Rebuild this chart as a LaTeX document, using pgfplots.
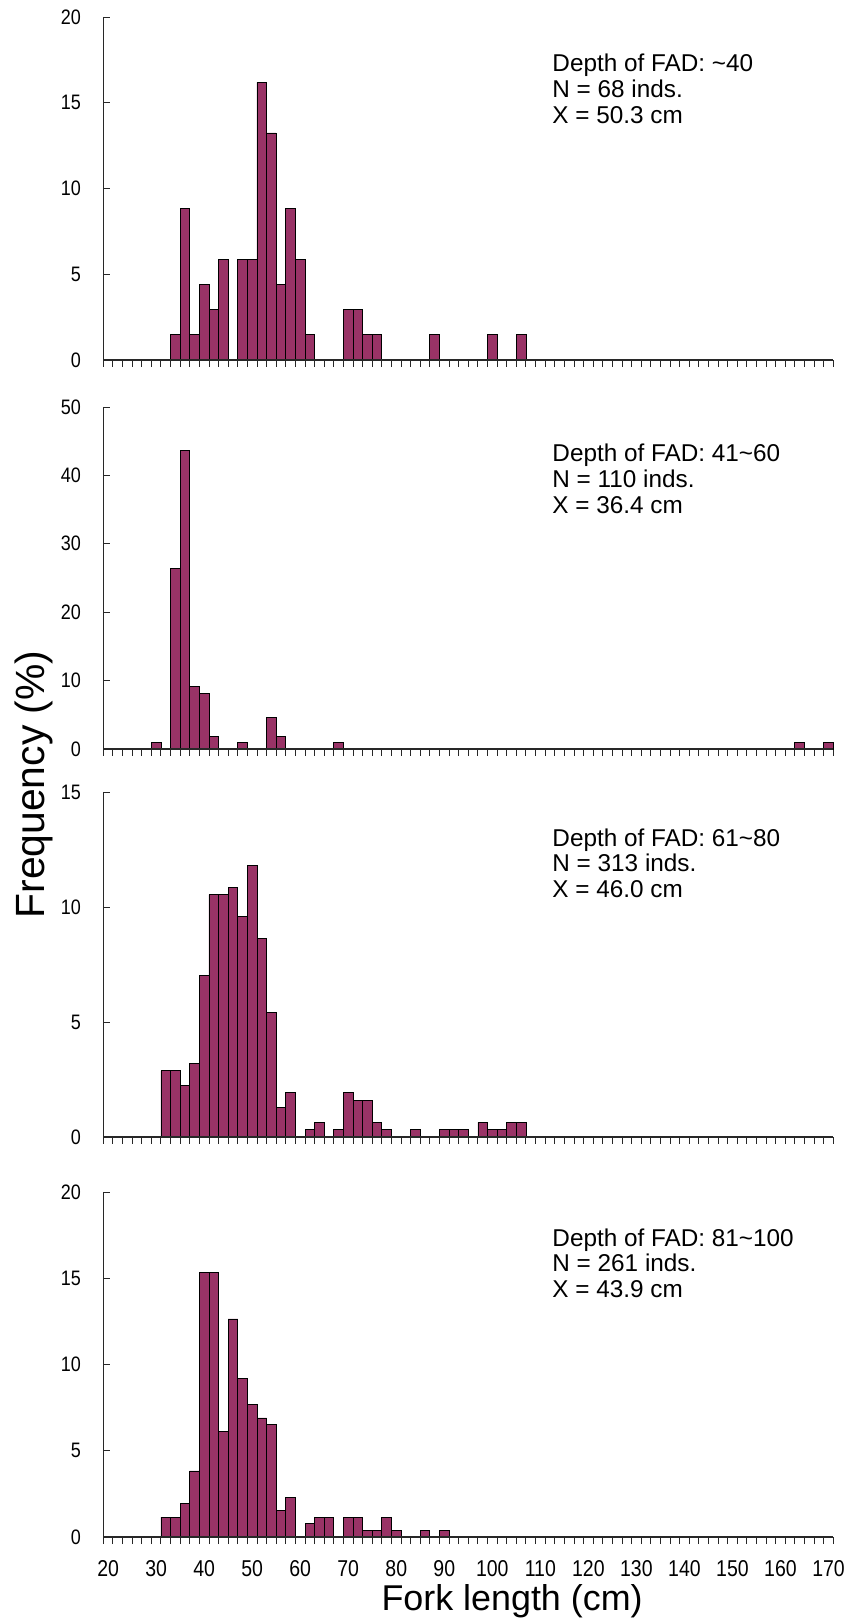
\documentclass[border=0pt]{standalone}
\usepackage{fontspec}
\setmainfont{Liberation Sans}
\newfontfamily\xtickfont[FakeStretch=0.85]{Liberation Sans}
\newfontfamily\ytickfont[FakeStretch=0.86]{Liberation Sans}
\usepackage{pgfplots}
\usepackage{pgfplotstable}
\pgfplotsset{compat=1.18}
\definecolor{barfill}{RGB}{153,51,102}
\definecolor{axisgray}{RGB}{40,40,40}

% Panel 1: depth ~40 m (N = 68)
\pgfplotstableread{
x y
34 1.47
36 8.82
38 1.47
40 4.41
42 2.94
44 5.88
48 5.88
50 5.88
52 16.18
54 13.24
56 4.41
58 8.82
60 5.88
62 1.47
70 2.94
72 2.94
74 1.47
76 1.47
88 1.47
100 1.47
106 1.47
}\dataA

% Panel 2: depth 41~60 m (N = 110)
\pgfplotstableread{
x y
30 0.91
34 26.36
36 43.64
38 9.09
40 8.18
42 1.82
48 0.91
54 4.55
56 1.82
68 0.91
164 0.91
170 0.91
}\dataB

% Panel 3: depth 61~80 m (N = 313)
\pgfplotstableread{
x y
32 2.88
34 2.88
36 2.24
38 3.19
40 7.03
42 10.54
44 10.54
46 10.86
48 9.58
50 11.82
52 8.63
54 5.43
56 1.28
58 1.92
62 0.32
64 0.64
68 0.32
70 1.92
72 1.60
74 1.60
76 0.64
78 0.32
84 0.32
90 0.32
92 0.32
94 0.32
98 0.64
100 0.32
102 0.32
104 0.64
106 0.64
}\dataC

% Panel 4: depth 81~100 m (N = 261)
\pgfplotstableread{
x y
32 1.15
34 1.15
36 1.92
38 3.83
40 15.33
42 15.33
44 6.13
46 12.64
48 9.20
50 7.66
52 6.90
54 6.51
56 1.53
58 2.30
62 0.77
64 1.15
66 1.15
70 1.15
72 1.15
74 0.38
76 0.38
78 1.15
80 0.38
86 0.38
90 0.38
}\dataD

\pgfplotsset{
  hist/.style={
    scale only axis, width=730bp,
    xmin=19, xmax=171, ymin=0,
    enlargelimits=false,
    axis line style={draw=none},
    xtick pos=left, ytick pos=left,
    tick align=inside,
    major tick length=7bp,
    tick style={line width=0.9bp, axisgray},
    xtick={19,21,...,171},
    xticklabels={},
    yticklabel style={font=\ytickfont\fontsize{21}{21}\selectfont, anchor=east, inner sep=0pt, xshift=-22.3bp},
    /pgf/number format/assume math mode=true,
    ybar, bar width=2,
    clip=false,
  },
  histbar/.style={fill=barfill, draw=black, line width=0.8bp, bar shift=0pt},
}
\tikzset{
  note/.style={anchor=north west, inner sep=0pt, align=left, font=\fontsize{24.4}{26}\selectfont},
  axln/.style={line width=1.3bp, axisgray},
}

\begin{document}
\begin{tikzpicture}
\useasboundingbox (0,0) rectangle (852bp,1618bp);

% Panel 1
\begin{axis}[hist, at={(103.3bp,1258bp)}, anchor=south west, height=343bp,
  ymax=20, ytick={0,5,10,15,20}]
  \addplot[histbar] table[x=x,y=y] {\dataA};
  \draw[axln] (rel axis cs:0,1) -- (rel axis cs:0,0) -- (rel axis cs:1,0);
  \node[note] at (rel axis cs:0.615,0.892) {Depth of FAD: \textasciitilde40\\N = 68 inds.\\X = 50.3 cm};
\end{axis}

% Panel 2
\begin{axis}[hist, at={(103.3bp,869bp)}, anchor=south west, height=342bp,
  ymax=50, ytick={0,10,20,30,40,50}]
  \addplot[histbar] table[x=x,y=y] {\dataB};
  \draw[axln] (rel axis cs:0,1) -- (rel axis cs:0,0) -- (rel axis cs:1,0);
  \node[note] at (rel axis cs:0.615,0.892) {Depth of FAD: 41\textasciitilde60\\N = 110 inds.\\X = 36.4 cm};
\end{axis}

% Panel 3
\begin{axis}[hist, at={(103.3bp,481bp)}, anchor=south west, height=345bp,
  ymax=15, ytick={0,5,10,15}]
  \addplot[histbar] table[x=x,y=y] {\dataC};
  \draw[axln] (rel axis cs:0,1) -- (rel axis cs:0,0) -- (rel axis cs:1,0);
  \node[note] at (rel axis cs:0.615,0.895) {Depth of FAD: 61\textasciitilde80\\N = 313 inds.\\X = 46.0 cm};
\end{axis}

% Panel 4
\begin{axis}[hist, at={(103.3bp,81bp)}, anchor=south west, height=345bp,
  ymax=20, ytick={0,5,10,15,20},
  extra x ticks={20,30,40,50,60,70,80,90,100,110,120,130,140,150,160,170},
  extra x tick labels={20,30,40,50,60,70,80,90,100,110,120,130,140,150,160,170},
  extra x tick style={major tick length=0pt,
    xticklabel style={font=\xtickfont\fontsize{23}{23}\selectfont, anchor=north, inner sep=0pt, yshift=-23bp}},
  xlabel={Fork length (cm)},
  xlabel style={at={(axis description cs:0.56,0)}, anchor=base, inner sep=0pt, yshift=-73bp, font=\fontsize{36}{36}\selectfont},
  ylabel={Frequency (\%)},
  ylabel style={at={(axis description cs:-0.0949,2.181)}, anchor=center, inner sep=0pt, font=\fontsize{41}{41}\selectfont},
]
  \addplot[histbar] table[x=x,y=y] {\dataD};
  \draw[axln] (rel axis cs:0,1) -- (rel axis cs:0,0) -- (rel axis cs:1,0);
  \node[note] at (rel axis cs:0.615,0.895) {Depth of FAD: 81\textasciitilde100\\N = 261 inds.\\X = 43.9 cm};
\end{axis}
\end{tikzpicture}
\end{document}
